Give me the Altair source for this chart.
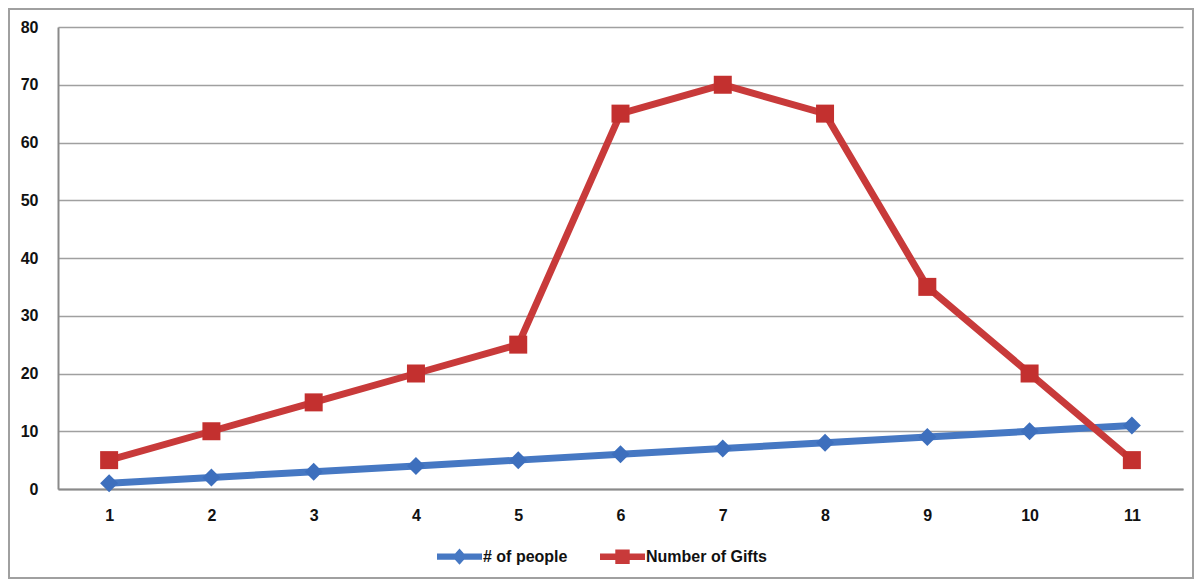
import altair as alt
import pandas as pd

categories = [1, 2, 3, 4, 5, 6, 7, 8, 9, 10, 11]
people = [1, 2, 3, 4, 5, 6, 7, 8, 9, 10, 11]
gifts = [5, 10, 15, 20, 25, 65, 70, 65, 35, 20, 5]
series_names = ["# of people", "Number of Gifts"]
line_colors = ["#4678c3", "#c83a3a"]
marker_colors = ["#3d6fbd", "#c3302f"]

rows = []
for c, p, g in zip(categories, people, gifts):
    rows.append({"x": c, "series": series_names[0], "value": p})
    rows.append({"x": c, "series": series_names[1], "value": g})
df = pd.DataFrame(rows)

FONT = "Liberation Sans"

xenc = alt.X("x:O", scale=alt.Scale(paddingInner=0, paddingOuter=0),
             axis=alt.Axis(title=None, labelAngle=0, ticks=False, domainColor="#8a8a8a",
                           domainWidth=2, labelPadding=18, grid=False))
yenc = alt.Y("value:Q", scale=alt.Scale(domain=[0, 80], nice=False),
             axis=alt.Axis(title=None, values=list(range(0, 90, 10)), ticks=False,
                           domainColor="#8a8a8a", domainWidth=2, labelPadding=20,
                           gridColor="#a0a0a0", gridWidth=1.5))

base = alt.Chart(df)
layers = []
for name, lc in zip(series_names, line_colors):
    layers.append(base.transform_filter(alt.datum.series == name)
                  .mark_line(strokeWidth=7, color=lc)
                  .encode(x=xenc, y=yenc))
layers.append(base.transform_filter(alt.datum.series == series_names[0])
              .mark_point(shape="diamond", filled=True, size=324, opacity=1,
                          color=marker_colors[0])
              .encode(x=xenc, y=yenc))
layers.append(base.transform_filter(alt.datum.series == series_names[1])
              .mark_point(shape="square", filled=True, size=324, opacity=1,
                          color=marker_colors[1])
              .encode(x=xenc, y=yenc))

legend_paths = [
    "M-1,-0.14H1V0.14H-1Z M-0.32,0L0,-0.36L0.32,0L0,0.36Z",
    "M-1,-0.14H1V0.14H-1Z M-0.32,-0.32H0.32V0.32H-0.32Z",
]
legend = alt.Legend(title=None, orient="none", direction="horizontal",
                    legendX=379, legendY=507, columnPadding=32, labelOffset=1,
                    symbolSize=2025, symbolStrokeWidth=0, labelFont=FONT,
                    labelFontSize=16, labelFontWeight="bold", labelColor="#111111")
legend_layer = base.mark_point(filled=True, size=2025, opacity=1, clip=True).encode(
    x=alt.value(10), y=alt.value(-3000),
    color=alt.Color("series:N", scale=alt.Scale(domain=series_names, range=line_colors),
                    legend=legend),
    shape=alt.Shape("series:N", scale=alt.Scale(domain=series_names, range=legend_paths),
                    legend=legend),
)
layers.append(legend_layer)

frame = alt.Chart(pd.DataFrame({"a": [0]})).mark_rect(
    fill=None, stroke="#a0a0a0", strokeWidth=2, clip=False
).encode(x=alt.value(-49), x2=alt.value(1135), y=alt.value(-18), y2=alt.value(551))
layers.append(frame)

chart = alt.layer(*layers).properties(
    width=1125, height=462,
    autosize=alt.AutoSizeParams(type="none"),
    padding={"left": 50, "top": 19, "right": 11, "bottom": 90},
).configure_view(stroke=None).configure_axis(
    labelFont=FONT, labelFontSize=16, labelFontWeight="bold", labelColor="#111111"
)

chart.save("out.html", embed_options={"renderer": "svg", "actions": False})
